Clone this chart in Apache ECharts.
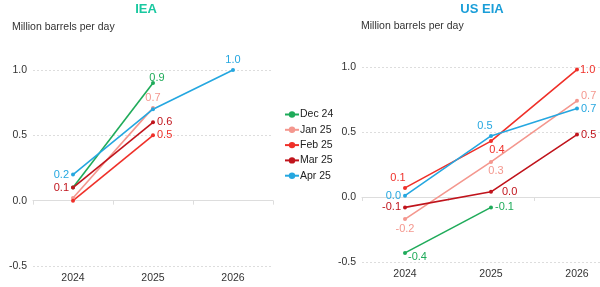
<!DOCTYPE html>
<html>
<head>
<meta charset="utf-8">
<script src="https://cdn.jsdelivr.net/npm/echarts@6/dist/echarts.min.js"></script>
<style>
html, body { margin: 0; padding: 0; background: #fff; overflow: hidden; }
#chart { width: 620px; height: 287px; }
</style>
</head>
<body>
<div id="chart"></div>
<script>
var years = ['2024', '2025', '2026'];
var seriesNames = ['Dec 24', 'Jan 25', 'Feb 25', 'Mar 25', 'Apr 25'];

// IEA forecasts
var ieaDec24 = [0.1, 0.9, null];
var ieaJan25 = [0.02, 0.71, null];
var ieaFeb25 = [0.0, 0.5, null];
var ieaMar25 = [0.1, 0.6, null];
var ieaApr25 = [0.2, 0.7, 1.0];

// US EIA forecasts
var eiaDec24 = [-0.43, -0.08, null];
var eiaJan25 = [-0.17, 0.27, 0.74];
var eiaFeb25 = [0.07, 0.43, 0.98];
var eiaMar25 = [-0.08, 0.04, 0.48];
var eiaApr25 = [0.01, 0.47, 0.68];

var yTicks = [-0.5, 0.0, 0.5, 1.0];

var colors = ['#1fab5a', '#f4978e', '#ef3029', '#c0141c', '#25a7e0'];

// label placement per point: null = no label
var ieaLabelPos = [
    [null, {position: 'top', distance: -2, offset: [4, 0]}, null],
    [null, {position: 'top', distance: 2}, null],
    [null, {position: 'right', distance: 2}, null],
    [{position: 'left', distance: 2}, {position: 'right', distance: 2}, null],
    [{position: 'left', distance: 2}, null, {position: 'top', distance: 3}]
];
var eiaLabelPos = [
    [{position: 'right', distance: 1, offset: [0, 4]}, {position: 'right', distance: 2}, null],
    [{position: 'bottom', distance: 2}, {position: 'bottom', distance: 2, offset: [5, 0]}, {position: 'right', distance: 2, offset: [0, -5]}],
    [{position: 'top', distance: 2, offset: [-7, 0]}, {position: 'bottom', distance: 1, offset: [6, 0]}, {position: 'right', distance: 1}],
    [{position: 'left', distance: 2}, {position: 'right', distance: 9}, {position: 'right', distance: 2}],
    [{position: 'left', distance: 2}, {position: 'top', distance: 2, offset: [-6, 0]}, {position: 'right', distance: 2}]
];

var ieaData = [ieaDec24, ieaJan25, ieaFeb25, ieaMar25, ieaApr25];
var eiaData = [eiaDec24, eiaJan25, eiaFeb25, eiaMar25, eiaApr25];

function buildPoints(values, labels) {
    return values.map(function (v, i) {
        var lp = labels[i];
        return {
            value: v,
            label: lp ? Object.assign({show: true}, lp) : {show: false}
        };
    });
}

var series = [];
[ieaData, eiaData].forEach(function (set, g) {
    var labelSet = g === 0 ? ieaLabelPos : eiaLabelPos;
    set.forEach(function (vals, i) {
        series.push({
            name: seriesNames[i],
            type: 'line',
            xAxisIndex: g,
            yAxisIndex: g,
            data: buildPoints(vals, labelSet[i]),
            symbol: 'circle',
            symbolSize: 4,
            color: colors[i],
            lineStyle: {width: 1.6},
            label: {
                color: colors[i],
                fontSize: 11,
                fontFamily: 'Liberation Sans, Arial, sans-serif',
                formatter: function (p) { return p.value.toFixed(1); }
            },
            animation: false
        });
    });
});

var font = 'Liberation Sans, Arial, sans-serif';
var axisFont = {color: '#333', fontSize: 10.5, fontFamily: font};

function yAxis(grid) {
    return {
        type: 'value',
        gridIndex: grid,
        min: yTicks[0],
        max: yTicks[yTicks.length - 1],
        interval: 0.5,
        axisLine: {show: false},
        axisTick: {show: false},
        axisLabel: Object.assign({margin: 6, formatter: function (v) { return v.toFixed(1); }}, axisFont),
        splitLine: {lineStyle: {color: '#ddd', type: [2, 2]}}
    };
}

function xAxis(grid) {
    return {
        type: 'category',
        gridIndex: grid,
        data: years,
        boundaryGap: true,
        axisLine: {lineStyle: {color: '#ddd'}},
        axisTick: {show: true, length: 4, lineStyle: {color: '#ddd'}},
        axisLabel: Object.assign({margin: 7}, axisFont),
        splitLine: {show: false}
    };
}

var option = {
    animation: false,
    title: [
        {text: 'IEA', left: 146, top: 3, textAlign: 'center', padding: 0,
         textStyle: {color: '#19c8a0', fontSize: 13, fontWeight: 'bold', fontFamily: font}},
        {text: 'US EIA', left: 482, top: 3, textAlign: 'center', padding: 0,
         textStyle: {color: '#1a9ed8', fontSize: 13, fontWeight: 'bold', fontFamily: font}},
        {text: 'Million barrels per day', left: 12, top: 22, padding: 0,
         textStyle: {color: '#333', fontSize: 10.5, fontWeight: 'normal', fontFamily: font}},
        {text: 'Million barrels per day', left: 361, top: 21, padding: 0,
         textStyle: {color: '#333', fontSize: 10.5, fontWeight: 'normal', fontFamily: font}}
    ],
    legend: {
        data: seriesNames,
        orient: 'vertical',
        left: 279,
        top: 104,
        itemWidth: 14,
        itemHeight: 8,
        itemGap: 4.3,
        textStyle: {color: '#222', fontSize: 10.5, fontFamily: font, padding: [0, 0, 0, -4]}
    },
    grid: [
        {left: 33, width: 240, top: 70, bottom: 21},
        {left: 362, width: 258, top: 67, bottom: 25}
    ],
    xAxis: [xAxis(0), xAxis(1)],
    yAxis: [yAxis(0), yAxis(1)],
    series: series
};

var myChart = echarts.init(document.getElementById('chart'));
myChart.setOption(option);
</script>
</body>
</html>
